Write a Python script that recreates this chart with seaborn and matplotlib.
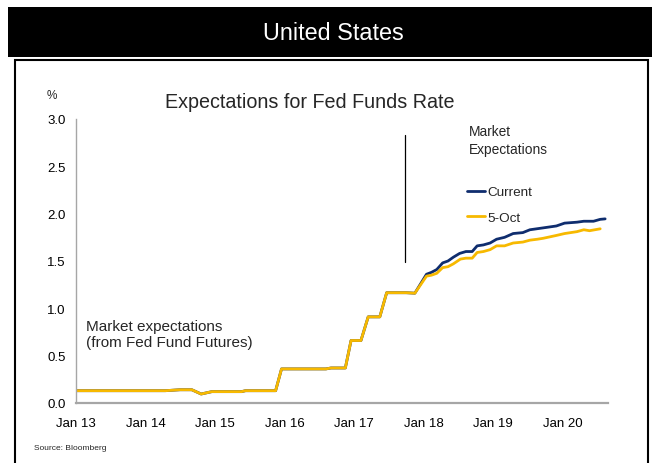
import matplotlib
matplotlib.use("Agg")
import matplotlib.pyplot as plt
import matplotlib.dates as mdates
from matplotlib.patches import Rectangle
import pandas as pd
import seaborn as sns

sns.set_style("white")
plt.rcParams["font.family"] = ["Liberation Sans", "DejaVu Sans"]

# Path shared by both curves up to late 2017
shared_dates = ["2013-01-01", "2014-04-15", "2014-07-01", "2014-09-01", "2014-10-20",
                "2014-12-15", "2015-05-20", "2015-06-10", "2015-11-15", "2015-12-16",
                "2016-08-05", "2016-09-01", "2016-11-15", "2016-12-15", "2017-02-05",
                "2017-03-15", "2017-05-15", "2017-06-20", "2017-10-01", "2017-11-15"]
shared_vals = [0.13, 0.13, 0.14, 0.14, 0.095,
               0.12, 0.12, 0.13, 0.13, 0.36,
               0.36, 0.37, 0.37, 0.66, 0.66,
               0.91, 0.91, 1.165, 1.165, 1.16]

current_dates = ["2018-01-15", "2018-02-10", "2018-03-10", "2018-04-10", "2018-05-08",
                 "2018-06-05", "2018-07-08", "2018-08-10", "2018-09-12", "2018-10-08",
                 "2018-11-10", "2018-12-15", "2019-01-18", "2019-03-01", "2019-04-15",
                 "2019-06-05", "2019-07-12", "2019-09-20", "2019-11-28", "2020-01-10",
                 "2020-03-15", "2020-04-20", "2020-06-10", "2020-07-15", "2020-08-10"]
current_vals = [1.36, 1.38, 1.41, 1.48, 1.50,
                1.54, 1.58, 1.60, 1.60, 1.66,
                1.67, 1.69, 1.73, 1.75, 1.79,
                1.80, 1.83, 1.85, 1.87, 1.90,
                1.91, 1.92, 1.92, 1.94, 1.945]

oct5_dates = ["2018-01-15", "2018-02-10", "2018-03-10", "2018-04-10", "2018-05-08",
              "2018-06-05", "2018-07-12", "2018-08-10", "2018-09-12", "2018-10-08",
              "2018-11-10", "2018-12-15", "2019-01-18", "2019-03-01", "2019-04-15",
              "2019-06-05", "2019-07-12", "2019-08-20", "2019-09-20", "2019-11-28",
              "2020-01-10", "2020-03-15", "2020-04-20", "2020-05-20", "2020-07-15"]
oct5_vals = [1.34, 1.35, 1.37, 1.43, 1.44,
             1.47, 1.52, 1.53, 1.53, 1.59,
             1.60, 1.62, 1.66, 1.66, 1.69,
             1.70, 1.72, 1.73, 1.74, 1.77,
             1.79, 1.81, 1.83, 1.82, 1.84]

series_names = ["Current", "5-Oct"]
series_colors = ["#0f2d6e", "#f7b900"]

df_current = pd.DataFrame({"date": pd.to_datetime(shared_dates + current_dates),
                           "rate": shared_vals + current_vals})
df_oct5 = pd.DataFrame({"date": pd.to_datetime(shared_dates + oct5_dates),
                        "rate": shared_vals + oct5_vals})

W, H = 652, 464
fig = plt.figure(figsize=(W / 100, H / 100), dpi=100)

# Black header band and framed panel
fig.patches.append(Rectangle((8 / W, 1 - 58 / H), 1, 50 / H, transform=fig.transFigure,
                             facecolor="black", edgecolor="none", zorder=0))
fig.text(333 / W, 1 - 33 / H, "United States", color="white", fontsize=16.8,
         ha="center", va="center")
fig.patches.append(Rectangle((15 / W, -0.05), 633 / W, 1 - 61 / H + 0.05,
                             transform=fig.transFigure, facecolor="none",
                             edgecolor="black", linewidth=1.5, zorder=0))

ax = fig.add_axes([76 / W, 1 - 404 / H, 532 / W, 284 / H])
sns.lineplot(data=df_current, x="date", y="rate", ax=ax, color=series_colors[0],
             linewidth=2, label=series_names[0], estimator=None, sort=False)
sns.lineplot(data=df_oct5, x="date", y="rate", ax=ax, color=series_colors[1],
             linewidth=2, label=series_names[1], estimator=None, sort=False)

ax.set_xlim(pd.Timestamp("2013-01-01"), pd.Timestamp("2020-08-25"))
ax.set_ylim(0, 3.0)
ax.set_yticks([0, 0.5, 1.0, 1.5, 2.0, 2.5, 3.0])
ax.yaxis.set_major_formatter(plt.FormatStrFormatter("%.1f"))
ax.xaxis.set_major_locator(mdates.YearLocator())
ax.xaxis.set_major_formatter(mdates.DateFormatter("Jan %y"))
ax.set_xlabel("")
ax.set_ylabel("")

for side in ["top", "right"]:
    ax.spines[side].set_visible(False)
for side in ["left", "bottom"]:
    ax.spines[side].set_color("#a6a6a6")
ax.spines["bottom"].set_linewidth(1.6)
ax.spines["left"].set_linewidth(1.0)
ax.tick_params(axis="both", direction="out", length=4, color="#a6a6a6",
               labelsize=9.5, labelcolor="black")
ax.tick_params(axis="x", pad=6)

# Vertical marker for the present
ax.plot([pd.Timestamp("2017-09-24")] * 2, [1.49, 2.83], color="black", linewidth=0.9)

leg = ax.legend(loc="upper left", bbox_to_anchor=(391 / 532, 1 - 67 / 284),
                frameon=False, fontsize=9.7, handlelength=1.35, handletextpad=0.15,
                borderaxespad=0, borderpad=0, labelspacing=0.95)
ax.text(393 / 532, 1 - 5 / 284, "Market\nExpectations", transform=ax.transAxes,
        fontsize=9.9, va="top", ha="left", linespacing=1.4)
ax.text(10 / 532, 84 / 284, "Market expectations\n(from Fed Fund Futures)",
        transform=ax.transAxes, fontsize=11, va="top", ha="left", linespacing=1.15)

fig.text(310 / W, 1 - 102 / H, "Expectations for Fed Funds Rate", fontsize=14.2,
         ha="center", va="center")
fig.text(52 / W, 1 - 96 / H, "%", fontsize=8.5, ha="center", va="center")
fig.text(34 / W, 1 - 449 / H, "Source: Bloomberg", fontsize=6, ha="left", va="center")

fig.savefig("out.png", dpi=100)
